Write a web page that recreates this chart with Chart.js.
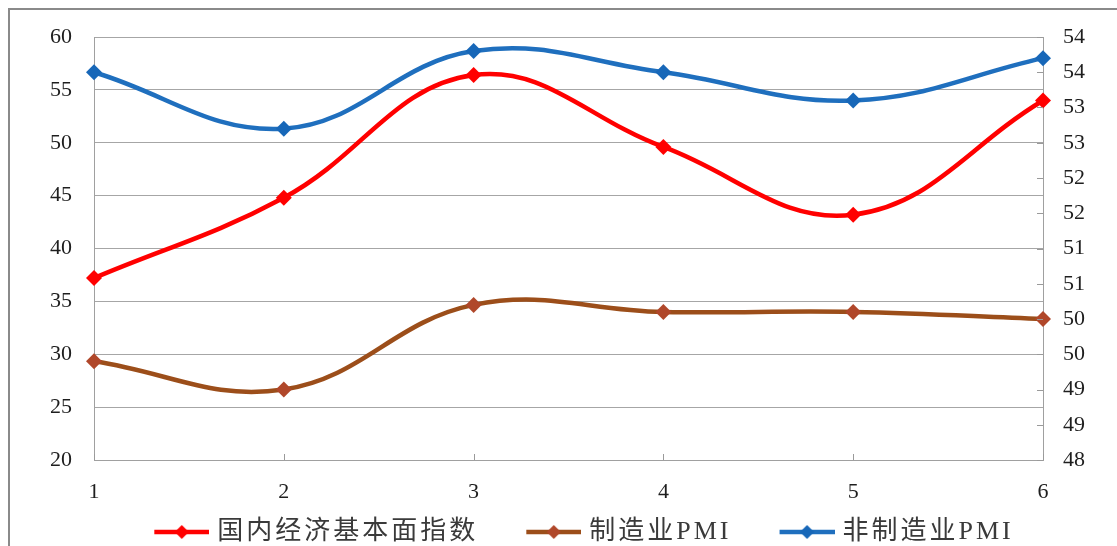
<!DOCTYPE html>
<html>
<head>
<meta charset="utf-8">
<script src="https://cdn.jsdelivr.net/npm/chart.js@4/dist/chart.umd.min.js"></script>
<style>
  html, body { margin: 0; padding: 0; background: #fff; }
  #wrap { width: 1117px; height: 546px; position: relative; }
</style>
</head>
<body>
<div id="wrap"><canvas id="c" width="1117" height="546"></canvas></div>
<script>
// Periods on the x axis
const categories = ['1', '2', '3', '4', '5', '6'];

// Domestic economic fundamentals index (left axis)
const domesticIndex = [37.2, 44.8, 56.4, 49.6, 43.2, 54.0];
// Manufacturing PMI (right axis)
const manufacturingPMI = [49.4, 49.0, 50.2, 50.1, 50.1, 50.0];
// Non-manufacturing PMI (right axis)
const nonManufacturingPMI = [53.5, 52.7, 53.8, 53.5, 53.1, 53.7];

// Axis ranges and tick steps
const leftTicks = { min: 20, max: 60, step: 5 };
const rightTicks = { min: 48, max: 54, step: 0.5 };

const seriesNames = ['国内经济基本面指数', '制造业PMI', '非制造业PMI'];
const lineColors = ['#ff0000', '#9c4e1a', '#1f6fbe'];
const markerColors = ['#ff0000', '#b0472a', '#1767b8'];

const SERIF = "'Liberation Serif', 'Times New Roman', 'Noto Sans CJK SC', serif";

// Legend icon: a line segment with a diamond in the middle, with blank lead-in space
const ICON_BOX = 90;
function legendIcon(lineColor, markColor) {
  const lead = 45, len = 55, h = 20;
  const cv = document.createElement('canvas');
  cv.width = lead + len; cv.height = h;
  const g = cv.getContext('2d');
  g.strokeStyle = lineColor; g.lineWidth = 4.5;
  g.beginPath(); g.moveTo(lead, h / 2); g.lineTo(lead + len, h / 2); g.stroke();
  const cx = lead + len / 2, cy = h / 2, r = 7;
  g.fillStyle = markColor;
  g.beginPath(); g.moveTo(cx - r, cy); g.lineTo(cx, cy - r); g.lineTo(cx + r, cy); g.lineTo(cx, cy + r); g.closePath(); g.fill();
  return cv;
}
const legendIcons = lineColors.map((c, i) => legendIcon(c, markerColors[i]));

// Outer frame of the chart
const framePlugin = {
  id: 'frame',
  beforeDraw(chart) {
    const ctx = chart.ctx;
    ctx.save();
    ctx.fillStyle = '#fff';
    ctx.fillRect(0, 0, chart.width, chart.height);
    ctx.strokeStyle = '#8a8a8a';
    ctx.lineWidth = 2;
    ctx.strokeRect(9, 9, chart.width + 40, chart.height + 40);
    ctx.restore();
  }
};

// Short inward tick marks on the right axis and on the category axis
const innerTicksPlugin = {
  id: 'innerTicks',
  afterDatasetsDraw(chart) {
    const ctx = chart.ctx, area = chart.chartArea;
    const y1 = chart.scales.y1, x = chart.scales.x;
    ctx.save();
    ctx.strokeStyle = '#9a9a9a';
    ctx.lineWidth = 1;
    ctx.beginPath();
    y1.ticks.forEach(t => {
      const py = Math.round(y1.getPixelForValue(t.value)) + 0.5;
      ctx.moveTo(area.right - 6, py); ctx.lineTo(area.right, py);
    });
    x.ticks.forEach((t, i) => {
      const px = Math.round(x.getPixelForTick(i)) + 0.5;
      ctx.moveTo(px, area.bottom); ctx.lineTo(px, area.bottom - 6);
    });
    ctx.stroke();
    ctx.restore();
  }
};

// Character spacing for the legend text, and a fixed legend band height
const LEGEND_HEIGHT = 35;
const legendSpacingPlugin = {
  id: 'legendSpacing',
  afterInit(chart) {
    const lg = chart.legend;
    if (!lg) return;
    ['fit', 'draw'].forEach(fn => {
      const orig = lg[fn].bind(lg);
      lg[fn] = function (...args) {
        const c = chart.ctx;
        const prev = c.letterSpacing;
        c.letterSpacing = '3px';
        try {
          const r = orig(...args);
          if (fn === 'fit') lg.height = LEGEND_HEIGHT;
          return r;
        } finally { c.letterSpacing = prev || '0px'; }
      };
    });
  }
};

function makeDataset(i, data, axis) {
  return {
    label: seriesNames[i],
    data: data,
    yAxisID: axis,
    borderColor: lineColors[i],
    backgroundColor: markerColors[i],
    borderWidth: 4.5,
    tension: 0.4,
    pointStyle: 'rectRot',
    pointRadius: 8,
    pointHoverRadius: 8,
    pointBackgroundColor: markerColors[i],
    pointBorderColor: markerColors[i],
    pointBorderWidth: 0,
    fill: false
  };
}

new Chart(document.getElementById('c'), {
  type: 'line',
  data: {
    labels: categories,
    datasets: [
      makeDataset(0, domesticIndex, 'y'),
      makeDataset(1, manufacturingPMI, 'y1'),
      makeDataset(2, nonManufacturingPMI, 'y1')
    ]
  },
  options: {
    responsive: false,
    animation: false,
    devicePixelRatio: 1,
    layout: { padding: { top: 37, left: 11, right: 0, bottom: 0 } },
    plugins: {
      tooltip: { enabled: false },
      legend: {
        position: 'bottom',
        labels: {
          usePointStyle: true,
          pointStyleWidth: ICON_BOX,
          padding: 8,
          color: '#3a3a3a',
          font: { family: SERIF, size: 26 },
          generateLabels(chart) {
            const items = Chart.defaults.plugins.legend.labels.generateLabels(chart);
            items.forEach((it, i) => { it.pointStyle = legendIcons[i]; });
            return items;
          }
        }
      }
    },
    scales: {
      x: {
        type: 'category',
        offset: false,
        grid: { display: true, drawOnChartArea: false, drawTicks: false },
        border: { display: true, color: '#a0a0a0', width: 1 },
        ticks: { color: '#1e1e1e', font: { family: SERIF, size: 22 }, padding: 19, maxRotation: 0 },
        afterFit(s) { s.height = 51; }
      },
      y: {
        position: 'left',
        min: leftTicks.min,
        max: leftTicks.max,
        grid: { color: '#a6a6a6', lineWidth: 1, drawTicks: false },
        border: { display: true, color: '#a0a0a0', width: 1 },
        ticks: { stepSize: leftTicks.step, color: '#1e1e1e', font: { family: SERIF, size: 22 }, padding: 22 },
        afterFit(s) { s.width = 83; }
      },
      y1: {
        position: 'right',
        min: rightTicks.min,
        max: rightTicks.max,
        grid: { drawOnChartArea: false, drawTicks: false },
        border: { display: true, color: '#a0a0a0', width: 1 },
        ticks: {
          stepSize: rightTicks.step,
          color: '#1e1e1e',
          font: { family: SERIF, size: 22 },
          padding: 20,
          callback: v => Number(v).toFixed(0)
        },
        afterFit(s) { s.width = 74; }
      }
    }
  },
  plugins: [framePlugin, innerTicksPlugin, legendSpacingPlugin]
});
</script>
</body>
</html>
